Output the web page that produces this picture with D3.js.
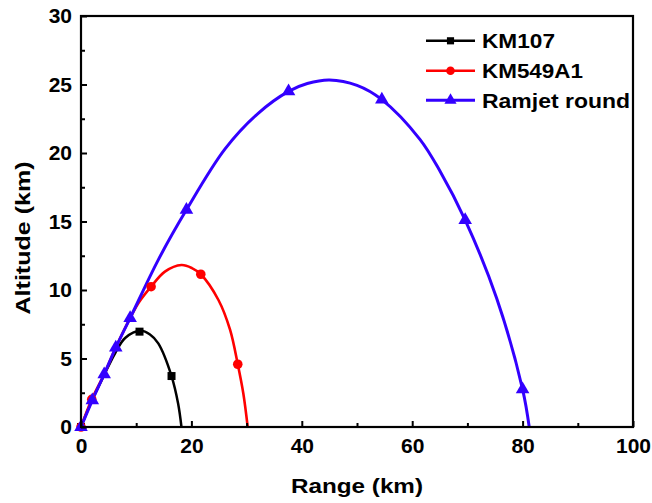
<!DOCTYPE html>
<html lang="en">
<head>
<meta charset="UTF-8">
<script src="https://cdn.jsdelivr.net/npm/d3@7"></script>
<style>
  body { margin: 0; background: #fff; }
  text { font-family: "Liberation Sans", Arial, sans-serif; font-weight: bold; }
</style>
</head>
<body>
<svg width="652" height="503"></svg>
<script>
// series names + colours
const names = ["KM107", "KM549A1", "Ramjet round"];
const colors = ["#000000", "#ff0000", "#3300ff"];

// trajectory points: [range km, altitude km]
const km107Line = [[0,0],[2,1.95],[4.2,3.8],[6.2,5.4],[8,6.5],[10.8,7.02],[12.5,6.75],[14,6.1],[16.4,3.72],[17.6,1.7],[18.2,0]];
const km549Line = [[0,0],[1.95,2.02],[4.2,3.85],[6.3,5.8],[8.9,7.95],[10.5,9.1],[12.7,10.24],[15.2,11.34],[18.2,11.82],[20.1,11.6],[21.7,11.15],[24.9,9.27],[27,7.1],[28.4,4.58],[29.4,2.46],[30.2,0]];
const ramjetLine = [[0,0],[2.05,1.95],[4.2,3.85],[6.3,5.8],[8.9,7.95],[14,12.2],[19.1,15.85],[26.1,20.3],[32.1,22.9],[37.6,24.5],[41,25.07],[45,25.33],[50,24.94],[54.5,23.9],[61.4,21.0],[65,18.7],[69.6,15.1],[75.3,9.4],[80,2.75],[81.2,0]];

// marker points
const km107Marks = [[0,0],[10.6,6.96],[16.4,3.72]];
const km549Marks = [[0,0],[1.95,2.02],[12.7,10.24],[21.7,11.15],[28.4,4.58]];
const ramjetMarks = [[0,0],[2.05,1.95],[4.2,3.85],[6.3,5.8],[8.9,7.95],[19.1,15.85],[37.6,24.5],[54.5,23.9],[69.6,15.1],[80,2.75]];

const xTicks = [0, 20, 40, 60, 80, 100];
const xMinor = [10, 30, 50, 70, 90];
const yTicks = [0, 5, 10, 15, 20, 25, 30];
const yMinor = [2.5, 7.5, 12.5, 17.5, 22.5, 27.5];

const lines = [km107Line, km549Line, ramjetLine];
const marks = [km107Marks, km549Marks, ramjetMarks];
const symbols = [d3.symbolSquare, d3.symbolCircle, d3.symbolTriangle];
const symSize = [64, 72, 80];
const lineW = [2.5, 2.6, 3];

const margin = {top: 16, right: 19, bottom: 76, left: 81};
const width = 652, height = 503;

const x = d3.scaleLinear().domain([0, 100]).range([margin.left, width - margin.right]);
const y = d3.scaleLinear().domain([0, 30]).range([height - margin.bottom, margin.top]);

const svg = d3.select("svg");

const line = d3.line()
    .curve(d3.curveCatmullRom.alpha(0.5))
    .x(d => x(d[0]))
    .y(d => y(d[1]));

// curves
lines.forEach((pts, i) => {
  svg.append("path")
      .datum(pts)
      .attr("fill", "none")
      .attr("stroke", colors[i])
      .attr("stroke-width", lineW[i])
      .attr("stroke-linejoin", "round")
      .attr("d", line);
});

// markers
marks.forEach((pts, i) => {
  svg.append("g").selectAll("path")
    .data(pts)
    .join("path")
      .attr("transform", d => `translate(${x(d[0])},${y(d[1])})`)
      .attr("fill", colors[i])
      .attr("d", d3.symbol(symbols[i], symSize[i]));
});

// axes
svg.append("g")
    .attr("transform", `translate(0,${y(0)})`)
    .call(d3.axisBottom(x).tickValues(xTicks).tickSize(-6).tickPadding(11).tickSizeOuter(0));
svg.append("g")
    .attr("transform", `translate(0,${y(0)})`)
    .call(d3.axisBottom(x).tickValues(xMinor).tickSize(-4).tickFormat("").tickSizeOuter(0));

svg.append("g")
    .attr("transform", `translate(${x(0)},0)`)
    .call(d3.axisLeft(y).tickValues(yTicks).tickSize(-6).tickPadding(9).tickSizeOuter(0));
svg.append("g")
    .attr("transform", `translate(${x(0)},0)`)
    .call(d3.axisLeft(y).tickValues(yMinor).tickSize(-4).tickFormat("").tickSizeOuter(0));

svg.selectAll(".tick line").attr("stroke", "#000").attr("stroke-width", 2);
svg.selectAll(".domain").remove();
svg.selectAll(".tick text").attr("font-size", 21).attr("fill", "#000")
    .style("font-family", '"Liberation Sans", Arial, sans-serif').style("font-weight", "bold");

// frame
svg.append("rect")
    .attr("x", x(0)).attr("y", y(30))
    .attr("width", x(100) - x(0)).attr("height", y(0) - y(30))
    .attr("fill", "none").attr("stroke", "#000").attr("stroke-width", 2.2);

// axis titles
svg.append("text")
    .attr("x", (x(0) + x(100)) / 2).attr("y", 493)
    .attr("text-anchor", "middle").attr("font-size", 21)
    .attr("textLength", 132).attr("lengthAdjust", "spacingAndGlyphs")
    .text("Range (km)");

svg.append("text")
    .attr("transform", "translate(30,238) rotate(-90)")
    .attr("text-anchor", "middle").attr("font-size", 21)
    .attr("textLength", 153).attr("lengthAdjust", "spacingAndGlyphs")
    .text("Altitude (km)");

// legend
const legY = [40.8, 70.8, 100.3];
const legLen = [73, 101, 148];
const leg = svg.append("g");
names.forEach((n, i) => {
  leg.append("line")
      .attr("x1", 426).attr("x2", 475)
      .attr("y1", legY[i]).attr("y2", legY[i])
      .attr("stroke", colors[i]).attr("stroke-width", lineW[i]);
  leg.append("path")
      .attr("transform", `translate(450.5,${legY[i]})`)
      .attr("fill", colors[i])
      .attr("d", d3.symbol(symbols[i], symSize[i] * 0.8));
  leg.append("text")
      .attr("x", 482).attr("y", legY[i] + 7.5)
      .attr("font-size", 21)
      .attr("textLength", legLen[i]).attr("lengthAdjust", "spacingAndGlyphs")
      .text(n);
});
</script>
</body>
</html>
